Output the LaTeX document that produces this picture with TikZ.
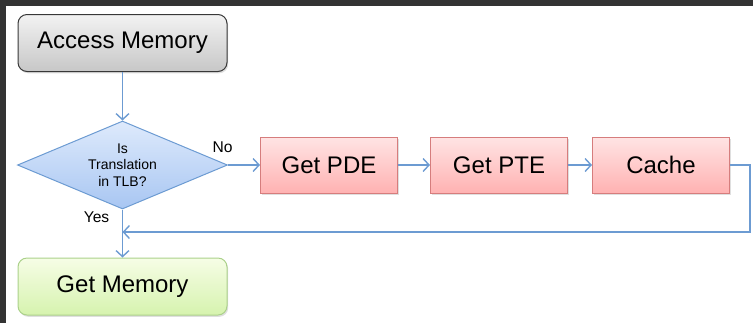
\documentclass[tikz,border=0pt]{standalone}
\usepackage{fontspec}
\setmainfont{Liberation Sans}
\usetikzlibrary{positioning,shapes.geometric,shadows,arrows.meta}
\definecolor{framegray}{HTML}{333333}
\definecolor{flowblue}{HTML}{6C9BD2}
\tikzset{
        every node/.style={font=\fontsize{12}{14}\selectfont},
        flow/.style={draw=flowblue, line width=0.7pt, -{Straight Barb[length=3pt, width=6.5pt]}},
        softshadow/.style={drop shadow={opacity=0.25, shadow xshift=0.6pt, shadow yshift=-0.9pt}},
        startbox/.style={rectangle, rounded corners=4.5pt, draw=black!78, line width=0.5pt, top color=black!5, bottom color=black!22,
          minimum width=104.5pt, minimum height=28.5pt, softshadow},
        decision/.style={diamond, aspect=2.4, draw=flowblue, line width=0.5pt, top color={rgb,255:red,222;green,234;blue,252}, bottom color={rgb,255:red,168;green,198;blue,242},
          minimum width=105pt, minimum height=44pt, inner sep=0pt, align=center, font=\fontsize{7}{8.4}\selectfont},
        process/.style={rectangle, draw={rgb,255:red,214;green,125;blue,125}, line width=0.5pt, top color={rgb,255:red,255;green,228;blue,228},
          bottom color={rgb,255:red,255;green,178;blue,178}, minimum width=68.5pt, minimum height=28pt, softshadow},
        finish/.style={rectangle, rounded corners=4.5pt, draw={rgb,255:red,171;green,209;blue,138}, line width=0.5pt, top color={rgb,255:red,246;green,253;blue,230},
          bottom color={rgb,255:red,214;green,243;blue,174}, minimum width=104.5pt, minimum height=28.5pt, softshadow},
        tag/.style={inner sep=0pt, font=\fontsize{7.8}{9}\selectfont}
          }
\begin{document}
\begin{tikzpicture}[x=0.5pt, y=-0.5pt]
            \useasboundingbox (0,0) rectangle (753,323);
            \fill[framegray] (0,0) rectangle (753,6);
            \fill[framegray] (0,0) rectangle (6,323);
            \node[startbox] (access) at (122.5,43) {Access Memory};
            \node[decision, below=24.25pt of access] (dec) {Is\\Translation\\in TLB?};
            \node[process, right=16pt of dec] (pde) {Get PDE};
            \node[process, right=16pt of pde] (pte) {Get PTE};
            \node[process, right=12pt of pte] (cache) {Cache};
            \node[finish, below=24pt of dec] (mem) {Get Memory};
            \node[tag] (no) at (222.5,147) {No};
            \node[tag] (yes) at (96.5,217) {Yes};
            \coordinate (turn) at (750,232);
            \coordinate (join) at (access.south |- turn);
            \draw[flow] (access) -- (dec);
            \draw[flow] (dec) -- (pde);
            \draw[flow] (pde) -- (pte);
            \draw[flow] (pte) -- (cache);
            \draw[flow] (cache.east) -| (turn) -- (join);
            \draw[flow] (dec) -- (mem);
          \end{tikzpicture}
\end{document}
